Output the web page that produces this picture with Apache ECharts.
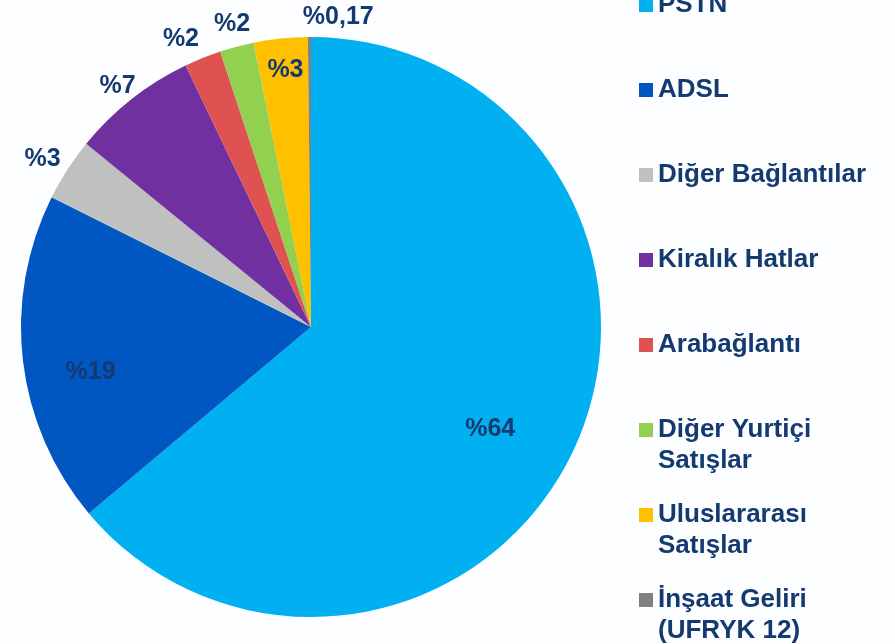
<!DOCTYPE html>
<html>
<head>
<meta charset="utf-8">
<script src="https://cdn.jsdelivr.net/npm/echarts@6/dist/echarts.min.js"></script>
<style>
html,body{margin:0;padding:0;background:#fdfeff;}
#chart{width:895px;height:644px;}
</style>
</head>
<body>
<div id="chart"></div>
<script>
// ---- data ----
const categories = ['PSTN', 'ADSL', 'Diğer Bağlantılar', 'Kiralık Hatlar', 'Arabağlantı',
  'Diğer Yurtiçi\nSatışlar', 'Uluslararası\nSatışlar', 'İnşaat Geliri\n(UFRYK 12)'];
const values = [63.9, 18.5, 3.5, 7.0, 2.05, 1.9, 3.0, 0.17];
const labelTexts = ['%64', '%19', '%3', '%7', '%2', '%2', '%3', '%0,17'];
const colors = ['#00b0f0', '#0057c2', '#c0c0c0', '#7030a0', '#e05252', '#92d050', '#ffc000', '#808080'];

// ---- style ----
const NAVY = '#143a70';
const FONT = "Arial, 'Liberation Sans', sans-serif";
const CX = 311, CY = 327, R = 290;
const LH = 31;

const pieData = values.map((v, i) => ({ value: v, name: categories[i], itemStyle: { color: colors[i] } }));

const labelRings = [
  { r: 208, idx: [0] },
  { r: 225, idx: [1] },
  { r: 260, idx: [6] },
  { r: 313, idx: [2, 3, 4, 5, 7] }
];
const nudges = { 0: [-12, 13], 1: [6, 18], 6: [2, 5], 7: [29, 6], 4: [-12, 5], 5: [2, 3], 3: [2, 7], 2: [-3, 4] };

const series = [{
  type: 'pie',
  center: [CX, CY],
  radius: [0, R],
  startAngle: 90,
  clockwise: true,
  avoidLabelOverlap: false,
  silent: true,
  label: { show: false },
  labelLine: { show: false },
  data: pieData
}];

labelRings.forEach(ring => {
  series.push({
    type: 'pie',
    center: [CX, CY],
    radius: [ring.r - 1, ring.r + 1],
    startAngle: 90,
    clockwise: true,
    avoidLabelOverlap: false,
    silent: true,
    itemStyle: { color: 'rgba(0,0,0,0)' },
    labelLine: { show: false },
    data: values.map((v, i) => ({
      value: v,
      name: categories[i],
      itemStyle: { color: 'rgba(0,0,0,0)' },
      label: {
        show: ring.idx.includes(i),
        position: 'inside',
        formatter: () => labelTexts[i],
        color: NAVY,
        fontFamily: FONT,
        fontWeight: 'bold',
        fontSize: 25,
        offset: nudges[i] || [0, 0]
      }
    }))
  });
});

const iconCenter0 = 5, step = 85;
const legends = categories.map((c, i) => {
  const multi = c.indexOf('\n') >= 0;
  const nl = multi ? 3 : 1;
  return {
    data: [c],
    orient: 'vertical',
    left: 639,
    top: iconCenter0 + i * step - nl * LH / 2,
    padding: 0,
    itemWidth: 14,
    itemHeight: 14,
    icon: 'rect',
    selectedMode: false,
    formatter: name => (name.indexOf('\n') >= 0 ? ' \n' + name : name),
    textStyle: { color: NAVY, fontFamily: FONT, fontWeight: 'bold', fontSize: 26, lineHeight: LH }
  };
});

const chart = echarts.init(document.getElementById('chart'), null, { renderer: 'canvas' });
chart.setOption({
  backgroundColor: '#fdfeff',
  animation: false,
  legend: legends,
  series: series
});
</script>
</body>
</html>
